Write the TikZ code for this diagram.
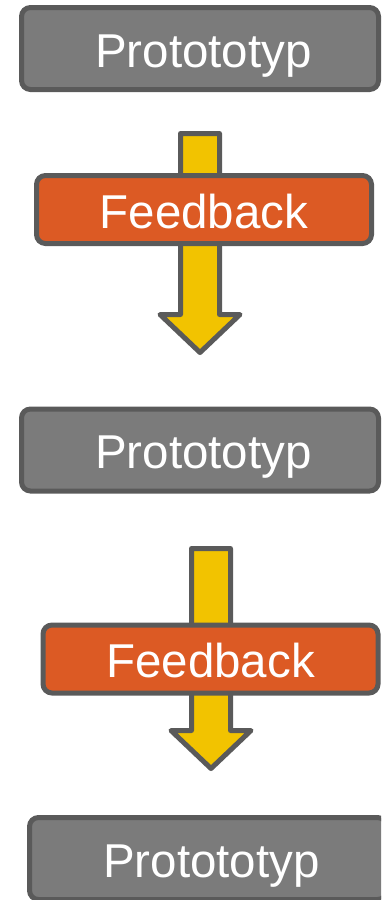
\documentclass[tikz,border=0pt]{standalone}
\usepackage{fontspec}
\setmainfont{Liberation Sans}
\usetikzlibrary{calc}
\definecolor{protogray}{HTML}{7B7B7B}
\definecolor{bordergray}{HTML}{5A5A5A}
\definecolor{feedorange}{HTML}{DC5A24}
\definecolor{arrowyellow}{HTML}{F2C300}
\begin{document}
\begin{tikzpicture}[x=1pt,y=-1pt,
  box/.style={rounded corners=9pt, line width=5pt, draw=bordergray, inner sep=0pt,
    text=white, font=\fontsize{47.5}{50}\selectfont, text height=37.5pt, text depth=0pt},
  protobox/.style={box, fill=protogray, minimum width=357pt, minimum height=82pt,
    execute at begin node={\hspace*{7pt}}},
  feedbox/.style={box, fill=feedorange, minimum width=335pt, minimum height=68pt},
  fatarrow/.style={draw=bordergray, fill=arrowyellow, line width=5pt, line join=round}]
\useasboundingbox (0,0) rectangle (381,900);
\clip (0,0) rectangle (381,900);
% prototype boxes
\node[protobox] (p1) at (200,48.5) {Protototyp};
\node[protobox] (p2) at (200,450) {Protototyp};
\node[protobox] (p3) at (208,858.5) {Protototyp};
% arrows
\coordinate (a1top) at (200,133.5);
\coordinate (a1tip) at (200,352.5);
\coordinate (a2top) at (211,548.5);
\coordinate (a2tip) at (211,768.5);
\foreach \t/\p in {a1top/a1tip, a2top/a2tip}{
  \draw[fatarrow] ($(\t)+(-19.5,0)$) -- ($(\t)+(19.5,0)$) -- ($(\p)+(19.5,-38)$)
    -- ($(\p)+(40,-38)$) -- (\p) -- ($(\p)+(-40,-38)$) -- ($(\p)+(-19.5,-38)$) -- cycle;
}
% feedback boxes
\node[feedbox] (f1) at (204,209.5) {Feedback};
\node[feedbox] (f2) at (210.5,659) {Feedback};
\end{tikzpicture}
\end{document}
